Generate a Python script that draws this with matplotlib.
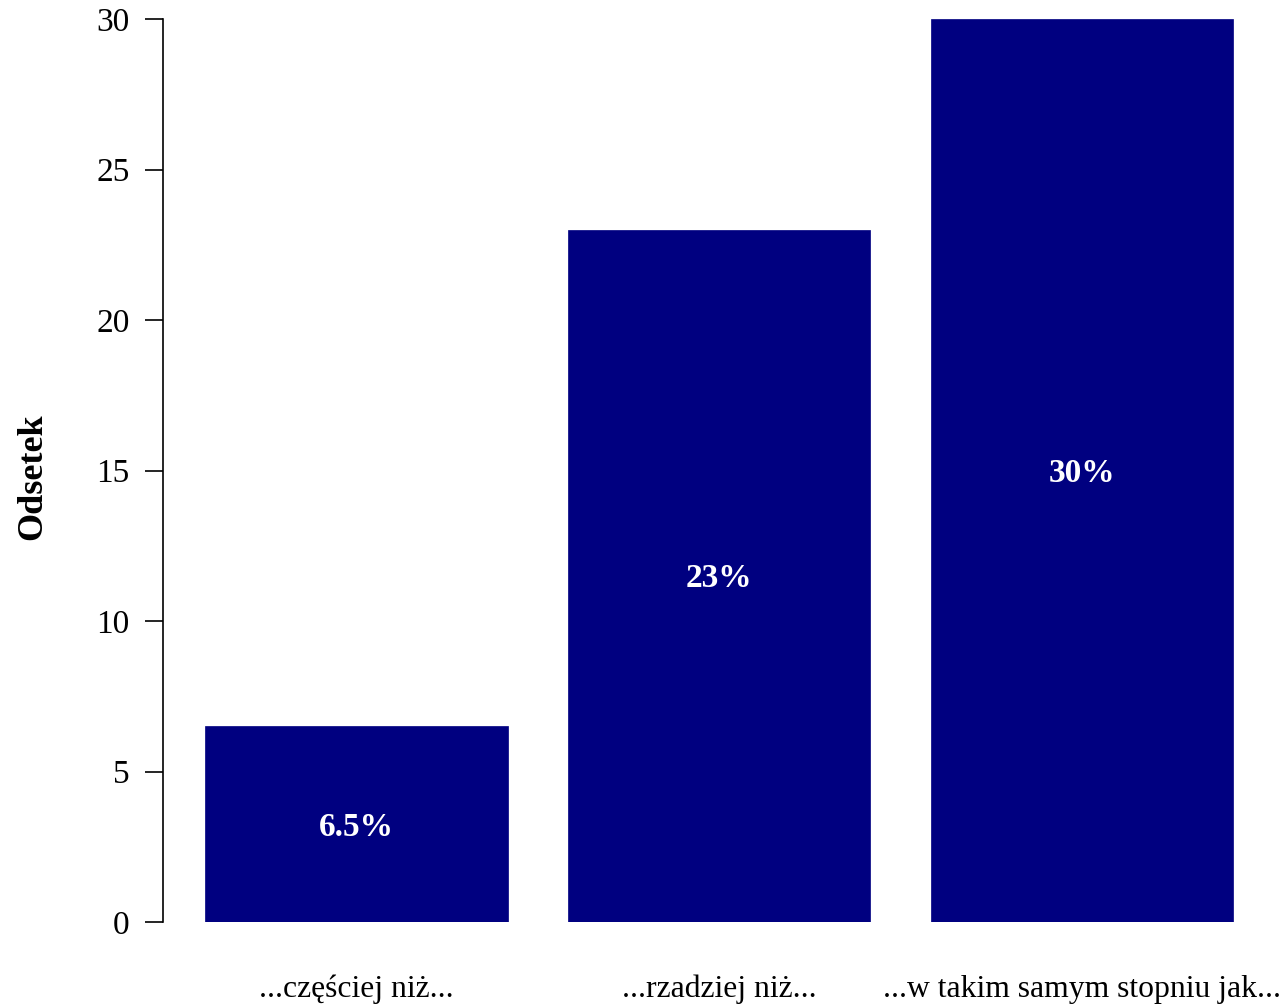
import matplotlib
matplotlib.use("Agg")
import matplotlib.pyplot as plt

# dane
CATEGORIES = ["...częściej niż...", "...rzadziej niż...", "...w takim samym stopniu jak..."]
VALUES = [6.5, 23, 30]
LABELS = ["6.5%", "23%", "30%"]
POSITIONS = [0.7, 1.9, 3.1]
YTICKS = [0, 5, 10, 15, 20, 25, 30]

plt.rcParams["font.family"] = ["Liberation Serif", "DejaVu Serif"]

W, H = 1287, 1006
fig = plt.figure(figsize=(W / 100, H / 100), dpi=100)
ax = fig.add_axes([163 / W, (H - 922) / H, (W - 163) / W, 903 / H])

ax.bar(POSITIONS, VALUES, width=1.0, color="#000080", edgecolor="#000080", linewidth=0.5)
for x, v, lab in zip(POSITIONS, VALUES, LABELS):
    ax.text(x, v / 2 - 0.1, lab, color="white", fontsize=24, fontweight="bold",
            ha="center", va="center")

ax.set_xlim(0.061, 3.777)
ax.set_ylim(0, 30)
for s in ("top", "right", "bottom"):
    ax.spines[s].set_visible(False)
ax.spines["left"].set_bounds(0, 30)
ax.spines["left"].set_linewidth(1.2)
ax.set_yticks(YTICKS)
ax.tick_params(axis="y", length=13, width=1.2, pad=11, labelsize=24)
ax.set_xticks(POSITIONS)
ax.set_xticklabels(CATEGORIES)
ax.tick_params(axis="x", length=0, pad=38, labelsize=22.8)

fig.text(33 / W, (H - 477) / H, "Odsetek", rotation=90, fontsize=26,
         fontweight="bold", ha="center", va="center")

fig.savefig("out.png", dpi=100)
